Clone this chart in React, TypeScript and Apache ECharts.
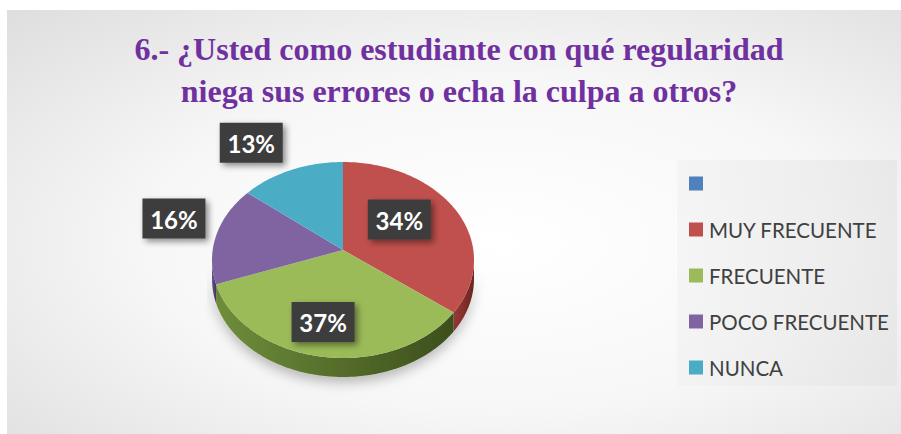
import React, { useEffect, useRef } from "react";
import * as echarts from "echarts";

const titleText = "6.- ¿Usted como estudiante con qué regularidad\nniega sus errores o echa la culpa a otros?";
const categories = [" ", "MUY FRECUENTE", "FRECUENTE", "POCO FRECUENTE", "NUNCA"];
const values = [0, 34, 37, 16, 13];
const percentLabels = ["", "34%", "37%", "16%", "13%"];

const topColors = ["#4F81BD", "#C0504D", "#9BBB59", "#8064A2", "#4BACC6"];
const sideLight = ["#3d6696", "#9a3a37", "#6f8e3a", "#65508a", "#3a8aa0"];
const sideDark = ["#2c4d75", "#6a2421", "#3c4e1d", "#463560", "#2a6a7c"];
const labelDist = [0, 0.53, 0.75, 1.33, 1.3];
const labelShift = [0, 7, -2.7, 0.4, 9.2];

const CX = 343, CY = 260, RX = 131, RY = 98, APEX_Y = 250, DEPTH = 19;

export default function App() {
  const ref = useRef<HTMLDivElement>(null);
  useEffect(() => {
    if (!ref.current) return;
    const chart = echarts.init(ref.current, null, { renderer: "svg" });
    const total = values.reduce((a, b) => a + b, 0);
    const starts: number[] = [];
    let acc = 0;
    values.forEach((v) => {
      starts.push(90 - (360 * acc) / total);
      acc += v;
    });
    const pt = (deg: number, dy = 0) => {
      const r = (deg * Math.PI) / 180;
      return [CX + RX * Math.cos(r), CY - RY * Math.sin(r) + dy];
    };
    const arc = (a0: number, a1: number, dy = 0) => {
      const pts: number[][] = [];
      const n = Math.max(2, Math.ceil(Math.abs(a1 - a0)));
      for (let k = 0; k <= n; k++) pts.push(pt(a0 + ((a1 - a0) * k) / n, dy));
      return pts;
    };

    const series = categories.map((name, i) => ({
      type: "custom",
      name,
      coordinateSystem: "none",
      itemStyle: { color: topColors[i] },
      data: [[values[i]]],
      renderItem: (params: any, api: any) => {
        const v = api.value(0);
        if (!v) return { type: "group", children: [] };
        const start = starts[i];
        const end = start - (360 * v) / total;
        const children: any[] = [];
        const hi = Math.min(start, 0);
        const lo = Math.max(end, -180);
        if (lo < hi) {
          const top = arc(hi, lo);
          const bottom = arc(lo, hi, DEPTH);
          children.push({
            type: "polygon",
            z2: 1,
            shape: { points: top.concat(bottom) },
            style: {
              fill: {
                type: "linear", x: 0, y: 0, x2: 1, y2: 0,
                colorStops: [
                  { offset: 0, color: sideLight[i] },
                  { offset: 1, color: sideDark[i] },
                ],
              },
              shadowBlur: 12,
              shadowColor: "rgba(0,0,0,0.25)",
              shadowOffsetY: 6,
            },
          });
        }
        children.push({
          type: "polygon",
          z2: 2,
          shape: { points: [[CX, APEX_Y]].concat(arc(start, end)) },
          style: { fill: topColors[i] },
        });
        const mid = (((start + end) / 2 + labelShift[i]) * Math.PI) / 180;
        const lx = CX + RX * labelDist[i] * Math.cos(mid);
        const ly = APEX_Y - RY * labelDist[i] * Math.sin(mid);
        children.push({
          type: "rect",
          z2: 10,
          shape: { x: lx - 31.5, y: ly - 20, width: 63, height: 40 },
          style: {
            fill: "#3E3E3E",
            shadowBlur: 6,
            shadowOffsetX: 3,
            shadowOffsetY: 3,
            shadowColor: "rgba(0,0,0,0.45)",
          },
        });
        children.push({
          type: "text",
          z2: 11,
          x: lx,
          y: ly + 1,
          style: {
            text: percentLabels[i],
            fill: "#FFFFFF",
            font: "bold 24px Lato",
            align: "center",
            verticalAlign: "middle",
          },
        });
        return { type: "group", children };
      },
    }));

    chart.setOption({
      animation: false,
      title: {
        text: titleText,
        left: 459,
        top: 28,
        textAlign: "center",
        padding: 0,
        textStyle: {
          fontFamily: "Liberation Serif",
          fontWeight: "bold",
          fontSize: 32,
          lineHeight: 42,
          color: "#7030A0",
        },
      },
      graphic: [
        {
          type: "rect",
          z: -10,
          silent: true,
          shape: { x: 7, y: 10, width: 894, height: 424 },
          style: {
            fill: {
              type: "radial", x: 0.55, y: 0.55, r: 1.3,
              colorStops: [
                { offset: 0, color: "#FFFFFF" },
                { offset: 0.3, color: "#F7F7F7" },
                { offset: 1, color: "#BCBCBC" },
              ],
            },
          },
        },
        {
          type: "rect",
          z: -9,
          silent: true,
          shape: { x: 677, y: 160, width: 220, height: 226 },
          style: {
            fill: {
              type: "linear", x: 0, y: 0, x2: 1, y2: 0,
              colorStops: [
                { offset: 0, color: "rgba(240,240,240,0.55)" },
                { offset: 1, color: "rgba(225,225,225,0.55)" },
              ],
            },
          },
        },
      ],
      legend: {
        orient: "vertical",
        left: 689,
        top: 173,
        padding: 0,
        icon: "rect",
        itemWidth: 14,
        itemHeight: 14,
        itemGap: 25,
        selectedMode: false,
        data: categories,
        textStyle: {
          fontFamily: "Lato",
          fontSize: 20.5,
          lineHeight: 20,
          color: "#404040",
          padding: [0, 0, 0, 1],
        },
      },
      series,
    });
    return () => chart.dispose();
  }, []);
  return (
    <div
      ref={ref}
      style={{ position: "absolute", left: 0, top: 0, width: 901, height: 434, background: "#FFFFFF" }}
    />
  );
}
